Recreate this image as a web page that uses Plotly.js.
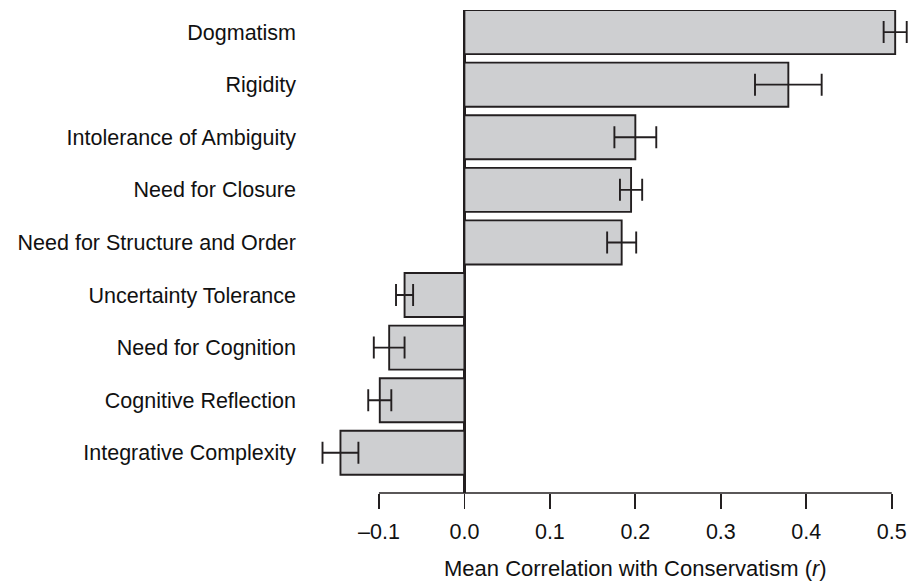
<!DOCTYPE html>
<html>
<head>
<meta charset="utf-8">
<script src="https://cdn.plot.ly/plotly-3.0.1.min.js"></script>
<style>html,body{margin:0;padding:0;background:#fff;}#chart{width:908px;height:584px;}</style>
</head>
<body>
<div id="chart"></div>
<script>
// Categories, top to bottom
const categories = [
  "Dogmatism",
  "Rigidity",
  "Intolerance of Ambiguity",
  "Need for Closure",
  "Need for Structure and Order",
  "Uncertainty Tolerance",
  "Need for Cognition",
  "Cognitive Reflection",
  "Integrative Complexity"
];
// Mean correlation with conservatism (r)
const meanR = [0.504, 0.379, 0.200, 0.195, 0.184, -0.070, -0.088, -0.099, -0.145];
// Error bar half-widths
const errR = [0.0135, 0.039, 0.0245, 0.013, 0.017, 0.010, 0.018, 0.0135, 0.021];
// X tick values and labels
const xTickVals = [-0.1, 0.0, 0.1, 0.2, 0.3, 0.4, 0.5];
const xTickText = ["\u20130.1", "0.0", "0.1", "0.2", "0.3", "0.4", "0.5"];
const xTitle = "Mean Correlation with Conservatism (<i>r</i>)";

const FONT = "'Liberation Sans', Arial, Helvetica, sans-serif";
const INK = "#231f20";
const TXT = "#111111";

const trace = {
  type: "bar",
  orientation: "h",
  y: categories,
  x: meanR,
  width: 0.837,
  marker: { color: "#cecfd1", line: { color: INK, width: 1.9 } },
  error_x: { type: "data", array: errR, visible: true, color: INK, thickness: 1.9, width: 11 },
  hoverinfo: "none"
};

const xFirst = xTickVals[0];
const xLast = xTickVals[xTickVals.length - 1];

const layout = {
  width: 908,
  height: 584,
  margin: { l: 302, r: 0, t: 10, b: 91, pad: 0 },
  paper_bgcolor: "#ffffff",
  plot_bgcolor: "#ffffff",
  showlegend: false,
  font: { family: FONT, size: 21.5, color: TXT },
  xaxis: {
    range: [-0.19, 0.519],
    tickvals: xTickVals,
    ticktext: xTickText,
    ticks: "outside",
    ticklen: 15,
    tickwidth: 1.7,
    tickcolor: INK,
    ticklabelstandoff: 4,
    showline: false,
    showgrid: false,
    zeroline: true,
    zerolinecolor: INK,
    zerolinewidth: 2.2,
    tickfont: { family: FONT, size: 21.5, color: TXT },
    fixedrange: true
  },
  yaxis: {
    type: "category",
    categoryorder: "array",
    categoryarray: categories,
    range: [8.765, -0.42],
    showline: false,
    showgrid: false,
    zeroline: false,
    ticks: "",
    ticklabelstandoff: 5,
    tickfont: { family: FONT, size: 21.5, color: TXT },
    fixedrange: true
  },
  shapes: [
    { type: "line", xref: "x", yref: "paper", x0: xFirst, x1: xLast, y0: 0, y1: 0,
      line: { color: INK, width: 1.7 } }
  ],
  annotations: [
    { text: xTitle, xref: "x", yref: "paper", x: (xFirst + xLast) / 2, y: 0,
      xanchor: "center", yanchor: "middle", yshift: -75, showarrow: false,
      font: { family: FONT, size: 22, color: TXT } }
  ]
};

Plotly.newPlot("chart", [trace], layout, { staticPlot: true, displayModeBar: false });
</script>
</body>
</html>
